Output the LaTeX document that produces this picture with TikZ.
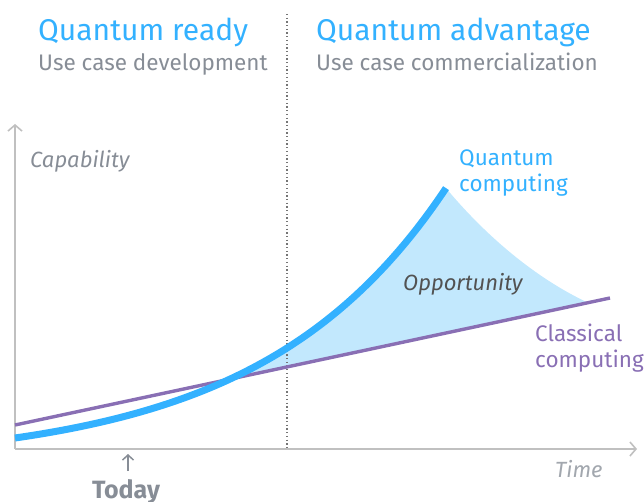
\documentclass[tikz,border=0pt]{standalone}
\usepackage{fontspec}
\setmainfont{Fira Sans}
\usetikzlibrary{arrows.meta}
\definecolor{qblue}{HTML}{33B1FF}
\definecolor{qfill}{HTML}{C2E8FD}
\definecolor{cpurple}{RGB}{137,111,180}
\definecolor{tgray}{HTML}{878D96}
\definecolor{lgray}{HTML}{A2A7AE}
\definecolor{axgray}{RGB}{192,192,192}
\definecolor{darkt}{HTML}{525252}
\pgfmathdeclarefunction{qcurve}{1}{\pgfmathparse{449-(-15.6+26.6*exp(0.005431*(#1-15)))}}
\begin{document}
\begin{tikzpicture}[x=1pt,y=-1pt,
  txt/.style={inner sep=0pt, anchor=base west},
  title/.style={txt, text=qblue, font=\fontsize{30}{34}\selectfont},
  sub/.style={txt, text=tgray, font=\fontsize{22.5}{26}\selectfont},
  lab/.style={txt, font=\fontsize{22.5}{26}\selectfont},
  axis/.style={draw=axgray, line width=1.6pt},
  chev/.style={-{Straight Barb[length=6pt,width=14pt,line width=1.6pt]}}
]
\useasboundingbox (0,0) rectangle (644,502);

% coordinates
\coordinate (origin) at (15,449);
\coordinate (ytop) at (15,124);
\coordinate (xend) at (637,449);
\coordinate (dtop) at (287,14);
\coordinate (dbot) at (287,449);
\coordinate (pstart) at (15,425);
\coordinate (pend) at (610,298);
\coordinate (cross) at (228,379.5);
\coordinate (fend) at (588,302.7);
\coordinate (tarrowlo) at (128,471);
\coordinate (tarrowhi) at (128,454);

% fill
\fill[qfill] plot[domain=228:446, samples=60, variable=\t] (\t,{qcurve(\t)})
  .. controls (485,235) and (535,278) .. (fend) -- (cross) -- cycle;

% axes
\draw[axis, chev] (origin) -- (ytop);
\draw[axis, chev] (origin) -- (xend);

% divider
\draw[draw=darkt!80, line width=1.3pt, dash pattern=on 1.3pt off 2.4pt] (dtop) -- (dbot);

% curves
\draw[cpurple, line width=3.4pt] (pstart) -- (pend);
\draw[qblue, line width=7pt] plot[domain=15:446, samples=100, variable=\t] (\t,{qcurve(\t)});

% today arrow
\draw[tgray, line width=1.5pt, -{Straight Barb[length=5pt,width=11pt,line width=1.5pt]}] (tarrowlo) -- (tarrowhi);

% texts
\node[title] (t1) at (38,41) {Quantum ready};
\node[sub] (s1) at (38,71) {Use case development};
\node[title] (t2) at (316,41) {Quantum advantage};
\node[sub] (s2) at (316,71) {Use case commercialization};
\node[lab, text=tgray, font=\fontsize{22}{26}\selectfont\itshape] (cap) at (30,168) {Capability};
\node[lab, text=qblue] (q1) at (459,166) {Quantum};
\node[lab, text=qblue] (q2) at (459,192) {computing};
\node[lab, text=darkt, font=\fontsize{22}{26}\selectfont\itshape] (opp) at (403,290) {Opportunity};
\node[lab, text=cpurple] (c1) at (535,341) {Classical};
\node[lab, text=cpurple] (c2) at (535,367) {computing};
\node[lab, text=lgray, font=\fontsize{22}{26}\selectfont\itshape] (time) at (555,477) {Time};
\node[inner sep=0pt, anchor=base, text=tgray, font=\fontsize{25}{29}\selectfont\bfseries] (today) at (126,498) {Today};
\end{tikzpicture}
\end{document}
